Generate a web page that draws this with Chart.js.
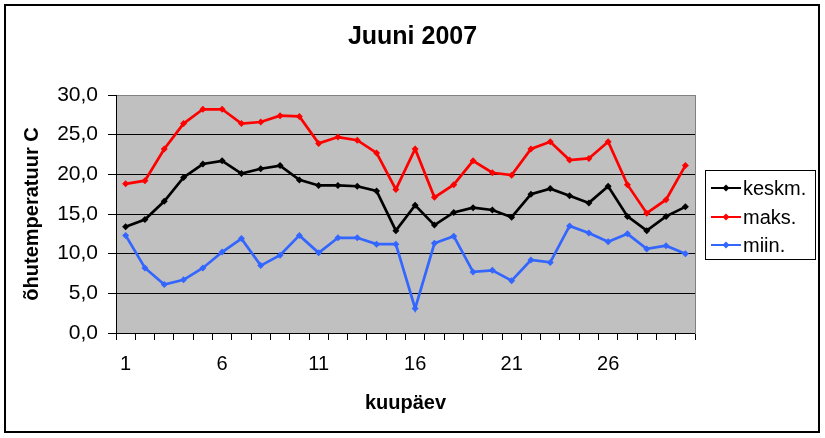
<!DOCTYPE html>
<html>
<head>
<meta charset="utf-8">
<script src="https://cdn.jsdelivr.net/npm/chart.js@4/dist/chart.umd.min.js"></script>
<style>
  body { margin: 0; background: #fff; }
</style>
</head>
<body>
<canvas id="chart" width="825" height="438"></canvas>
<script>
const days = ['1','2','3','4','5','6','7','8','9','10','11','12','13','14','15',
  '16','17','18','19','20','21','22','23','24','25','26','27','28','29','30']

const keskm = [13.4, 14.3, 16.6, 19.6, 21.3, 21.7, 20.1, 20.7, 21.1, 19.3,
  18.6, 18.6, 18.5, 17.9, 12.9, 16.1, 13.6, 15.2, 15.8, 15.5,
  14.6, 17.5, 18.2, 17.3, 16.4, 18.5, 14.7, 12.9, 14.7, 15.9]
const maks = [18.8, 19.2, 23.2, 26.4, 28.2, 28.2, 26.4, 26.6, 27.4, 27.3,
  23.9, 24.7, 24.3, 22.7, 18.1, 23.2, 17.1, 18.7, 21.7, 20.2,
  19.9, 23.2, 24.1, 21.8, 22.0, 24.1, 18.7, 15.1, 16.8, 21.1]
const miin = [12.3, 8.2, 6.1, 6.7, 8.2, 10.2, 11.9, 8.5, 9.8, 12.3,
  10.1, 12.0, 12.0, 11.2, 11.2, 3.1, 11.3, 12.2, 7.7, 7.9,
  6.6, 9.2, 8.9, 13.5, 12.6, 11.5, 12.5, 10.6, 11.0, 10.0]

const seriesNames = ['keskm.', 'maks.', 'miin.']
const seriesColors = ['#000000', '#ff0000', '#3366ff']

const fontFamily = "Arial, 'Liberation Sans', sans-serif"

// grey plot area, outer frame and the boxed legend
const framePlugin = {
  id: 'frame',
  beforeDraw(chart) {
    const ctx = chart.ctx
    const a = chart.chartArea
    ctx.save()
    ctx.fillStyle = '#c0c0c0'
    ctx.fillRect(a.left, a.top, a.right - a.left, a.bottom - a.top)
    ctx.restore()
  },
  afterDraw(chart) {
    const ctx = chart.ctx
    ctx.save()
    ctx.strokeStyle = '#000'
    ctx.lineWidth = 2
    ctx.strokeRect(5, 5, 814, 427)

    // legend
    ctx.lineWidth = 1
    ctx.strokeRect(705.5, 170.5, 110, 89)
    ctx.font = '20px ' + fontFamily
    ctx.textBaseline = 'middle'
    ctx.textAlign = 'left'
    const rows = [188, 217, 245]
    for (let i = 0; i < seriesNames.length; i++) {
      const y = rows[i]
      ctx.strokeStyle = seriesColors[i]
      ctx.fillStyle = seriesColors[i]
      ctx.lineWidth = 2
      ctx.beginPath()
      ctx.moveTo(711, y)
      ctx.lineTo(741, y)
      ctx.stroke()
      ctx.beginPath()
      ctx.moveTo(726, y - 3.5)
      ctx.lineTo(729.5, y)
      ctx.lineTo(726, y + 3.5)
      ctx.lineTo(722.5, y)
      ctx.closePath()
      ctx.fill()
      ctx.fillStyle = '#000'
      ctx.fillText(seriesNames[i], 743, y + 1)
    }
    ctx.restore()
  }
}

function makeDataset(label, data, color) {
  return {
    label: label,
    data: data,
    borderColor: color,
    backgroundColor: color,
    borderWidth: 2.7,
    pointStyle: 'rectRot',
    pointRadius: 3.5,
    pointBorderWidth: 0,
    tension: 0,
    fill: false
  }
}

new Chart(document.getElementById('chart'), {
  type: 'line',
  data: {
    labels: days,
    datasets: [
      makeDataset(seriesNames[0], keskm, seriesColors[0]),
      makeDataset(seriesNames[1], maks, seriesColors[1]),
      makeDataset(seriesNames[2], miin, seriesColors[2])
    ]
  },
  options: {
    responsive: false,
    animation: false,
    events: [],
    layout: { padding: { top: 8, left: 8, right: 8, bottom: 8 } },
    plugins: {
      legend: { display: false },
      tooltip: { enabled: false },
      title: {
        display: true,
        text: 'Juuni 2007',
        color: '#000',
        font: { family: fontFamily, size: 25, weight: 'bold' },
        padding: { top: 14, bottom: 43 }
      }
    },
    scales: {
      x: {
        offset: true,
        grid: {
          offset: true,
          drawOnChartArea: false,
          color: '#000',
          tickLength: 7
        },
        border: { color: '#000', width: 1 },
        ticks: {
          autoSkip: false,
          maxRotation: 0,
          padding: 12,
          color: '#000',
          font: { family: fontFamily, size: 20 },
          callback: function(value, index) {
            return index % 5 === 0 ? days[index] : ''
          }
        },
        title: {
          display: true,
          text: 'kuupäev',
          color: '#000',
          font: { family: fontFamily, size: 20, weight: 'bold' },
          padding: { top: 0, bottom: 15 }
        },
        afterFit(scale) { scale.height = 438 - 8 - 333 }
      },
      y: {
        min: 0,
        max: 30,
        ticks: {
          stepSize: 5,
          padding: 10,
          color: '#000',
          font: { family: fontFamily, size: 21 },
          callback: v => v.toFixed(1).replace('.', ',')
        },
        grid: {
          color: ctx => ctx.tick && ctx.tick.value === 30 ? '#808080' : '#000',
          tickColor: '#000',
          tickLength: 8,
          lineWidth: 1
        },
        border: { color: '#000', width: 1 },
        title: {
          display: true,
          text: 'õhutemperatuur C',
          color: '#000',
          font: { family: fontFamily, size: 20, weight: 'bold' },
          padding: { top: 12, bottom: 0 }
        },
        afterFit(scale) { scale.width = 116 - 8 }
      },
      side: {
        position: 'right',
        min: 0,
        max: 30,
        grid: { display: false },
        ticks: { display: false },
        border: { color: '#808080', width: 1 },
        afterFit(scale) { scale.width = 817 - 695 }
      }
    }
  },
  plugins: [framePlugin]
})
</script>
</body>
</html>
